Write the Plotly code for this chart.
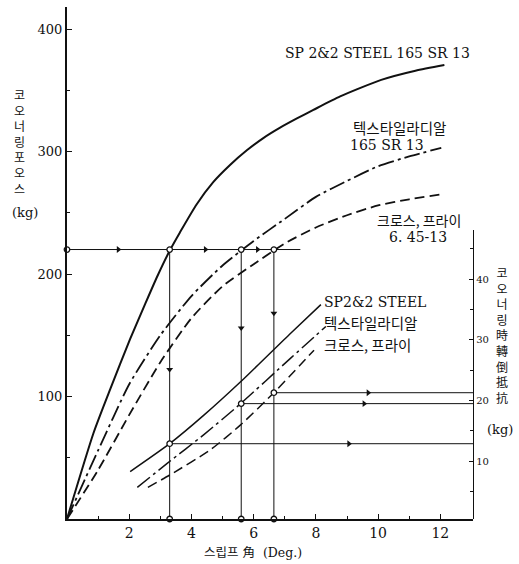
import plotly.graph_objects as go

# ---------------- data ----------------
# Upper curves: cornering force (kg, left axis) vs slip angle (deg)
slip_sp = [0, 0.85, 1.39, 2.03, 2.52, 2.9, 3.32, 3.63, 4.17, 4.7, 5.24, 5.78, 6.31, 6.85, 7.39, 7.92, 8.78, 10.1, 11.2, 12.13]
force_sp = [0, 70, 106, 147, 176, 198, 220, 234, 257, 275, 289, 301, 311, 319.5, 327, 334, 345, 358.5, 366, 370.6]

slip_tr = [0, 1, 2, 3, 4, 5, 6, 7, 8, 9, 10, 11, 12.03]
force_tr = [0, 56, 110, 150, 182, 207, 227, 245, 263, 276, 288, 296, 303]

slip_cp = [0, 1, 2, 3, 4, 5, 6, 7, 8, 9, 10, 11, 12.03]
force_cp = [0, 40, 85, 128, 164, 190, 208, 225, 238, 248, 256, 261, 265]

# Lower curves: overturning resistance while cornering (kg, right axis)
slip_sp_lo = [2.03, 3.3, 4.4, 5.58, 7.19, 8.16]
res_sp = [8.3, 12.9, 17.6, 23.1, 31.1, 35.8]
slip_tr_lo = [2.26, 3.23, 4.4, 5.58, 7.19, 8.32]
res_tr = [5.7, 9.7, 14.4, 19.5, 27.0, 32.2]
slip_cp_lo = [2.6, 3.32, 4.61, 5.58, 6.65, 7.94]
res_cp = [5.7, 7.8, 11.9, 16.0, 21.3, 28.3]

# Operating points at 220 kg cornering force
op_force = 220
op_slip = [3.3, 5.6, 6.65]
op_res = [12.9, 19.5, 21.3]

# direction-arrow positions along guide lines
arrow_down_force = [122, 156, 168]
arrow_right_slip = [9.06, 9.55, 9.68]

# tick labels
x_ticks = [2, 4, 6, 8, 10, 12]
y_ticks = [100, 200, 300, 400]
y2_ticks = [10, 20, 30, 40]

# ---------------- figure ----------------
X_MAX = 13.05
H_END = 7.5
SERIF = "DejaVu Serif, Liberation Serif, Noto Sans CJK KR, serif"
KR = "Noto Sans CJK KR, DejaVu Serif, serif"
BLACK = "#111111"
DASHDOT = "16px,4px,3px,4px"
DASH = "10px,5px"
NB = "\u00a0"

fig = go.Figure()

def line(x, y, yaxis="y", width=1.0, dash="solid", spline=False):
    fig.add_trace(go.Scatter(
        x=x, y=y, yaxis=yaxis, mode="lines",
        line=dict(color=BLACK, width=width, dash=dash,
                  shape="spline" if spline else "linear", smoothing=0.6),
        hoverinfo="skip", cliponaxis=False))

# upper curves
line(slip_sp, force_sp, width=2.0, spline=True)
line(slip_tr, force_tr, width=1.8, dash=DASHDOT, spline=True)
line(slip_cp, force_cp, width=1.8, dash=DASH, spline=True)

# lower curves
line(slip_sp_lo, res_sp, yaxis="y2", width=1.5, spline=True)
line(slip_tr_lo, res_tr, yaxis="y2", width=1.5, dash=DASHDOT, spline=True)
line(slip_cp_lo, res_cp, yaxis="y2", width=1.5, dash=DASH, spline=True)

# guide lines
line([0, H_END], [op_force, op_force], width=1.0)
for s in op_slip:
    line([s, s], [0, op_force], width=1.0)
for s, r in zip(op_slip, op_res):
    line([s, X_MAX], [r, r], yaxis="y2", width=1.0)

# arrows
mids = [op_slip[0] / 2, (op_slip[0] + op_slip[1]) / 2, (op_slip[1] + op_slip[2]) / 2]
fig.add_trace(go.Scatter(x=mids, y=[op_force] * 3, mode="markers",
                         marker=dict(symbol="triangle-right", size=6, color=BLACK),
                         hoverinfo="skip"))
fig.add_trace(go.Scatter(x=op_slip, y=arrow_down_force, mode="markers",
                         marker=dict(symbol="triangle-down", size=6, color=BLACK),
                         hoverinfo="skip"))
fig.add_trace(go.Scatter(x=arrow_right_slip, y=op_res, yaxis="y2", mode="markers",
                         marker=dict(symbol="triangle-right", size=6, color=BLACK),
                         hoverinfo="skip"))

# small open circles
circ = dict(symbol="circle", size=5.5, color="white", line=dict(color=BLACK, width=1.3))
fig.add_trace(go.Scatter(x=[0] + op_slip, y=[op_force] * 4, mode="markers",
                         marker=circ, hoverinfo="skip", cliponaxis=False))
fig.add_trace(go.Scatter(x=op_slip, y=[0] * 3, mode="markers",
                         marker=circ, hoverinfo="skip", cliponaxis=False))
fig.add_trace(go.Scatter(x=op_slip, y=op_res, yaxis="y2", mode="markers",
                         marker=circ, hoverinfo="skip", cliponaxis=False))

# ---------------- annotations ----------------
def note(text, x, y, xref="x", yref="y", size=14, xanchor="center", font=SERIF):
    fig.add_annotation(text=text, x=x, y=y, xref=xref, yref=yref, showarrow=False,
                       xanchor=xanchor, yanchor="middle",
                       font=dict(family=font, size=size, color=BLACK))

note("SP 2&amp;2 STEEL 165 SR 13", 9.98, 380.4, size=14)
note("텍스타일라디알", 10.69, 320, size=14.5, font=KR)
note("165 SR 13", 10.27, 305.3, size=14)
note("크로스, 프라이", 11.3, 244, size=14, font=KR)
note("6. 45-13", 11.27, 230, size=14)

note("SP2&amp;2 STEEL", 8.2, 36.2, yref="y2", size=14, xanchor="left")
note("텍스타일라디알", 8.2, 32.8, yref="y2", size=14.5, xanchor="left", font=KR)
note("크로스, 프라이", 8.2, 29.2, yref="y2", size=14.5, xanchor="left", font=KR)

note("<br>".join("코오너링포오스"), -0.1158, 0.738, xref="paper", yref="paper", size=12, font=KR)
note("(kg)", -0.1034, 0.598, xref="paper", yref="paper", size=13)
note("<br>".join("코오너링時轉倒抵抗"), 1.0714, 0.359, xref="paper", yref="paper", size=12, font=KR)
note("(kg)", 1.0665, 0.174, xref="paper", yref="paper", size=13)
note(f"스립프 角{NB}{NB}(Deg.)", 0.457, -0.0664, xref="paper", yref="paper", size=12.5)

# ---------------- axes ----------------
fig.update_layout(
    width=519, height=564,
    margin=dict(l=67, r=46, t=7, b=45),
    plot_bgcolor="rgba(0,0,0,0)", paper_bgcolor="white",
    showlegend=False,
    font=dict(family=SERIF, color=BLACK),
    xaxis=dict(range=[0, X_MAX], showgrid=False, zeroline=False, automargin=False,
               showline=True, linecolor=BLACK, linewidth=1.5,
               ticks="inside", ticklen=5, tickcolor=BLACK, tickwidth=1,
               tickmode="array", tickvals=x_ticks,
               minor=dict(tickmode="array", tickvals=[1, 3, 5, 7, 9, 11], ticks="inside", ticklen=3, tickcolor=BLACK),
               tickfont=dict(size=14, family=SERIF)),
    yaxis=dict(range=[0, 418], showgrid=False, zeroline=False, automargin=False,
               showline=True, linecolor=BLACK, linewidth=2.2,
               ticks="inside", ticklen=5, tickcolor=BLACK, tickwidth=1,
               tickmode="array", tickvals=y_ticks,
               minor=dict(tickmode="array", tickvals=[50, 150, 250, 350], ticks="inside", ticklen=3, tickcolor=BLACK),
               tickfont=dict(size=13, family=SERIF)),
    yaxis2=dict(domain=[0, 0.5645], range=[0.5, 48.1], anchor="x", side="right",
                showgrid=False, zeroline=False, automargin=False,
                showline=True, linecolor=BLACK, linewidth=1.3,
                ticks="inside", ticklen=4, tickcolor=BLACK, tickwidth=1,
                tickmode="array", tickvals=y2_ticks,
                minor=dict(tickmode="array", tickvals=[5, 15, 25, 35, 45], ticks="inside", ticklen=3, tickcolor=BLACK),
                tickfont=dict(size=10, family=SERIF)),
)

fig.write_html("out.html", config={"displayModeBar": False},
               post_script="document.body.style.margin='0';document.body.style.overflow='hidden';")
